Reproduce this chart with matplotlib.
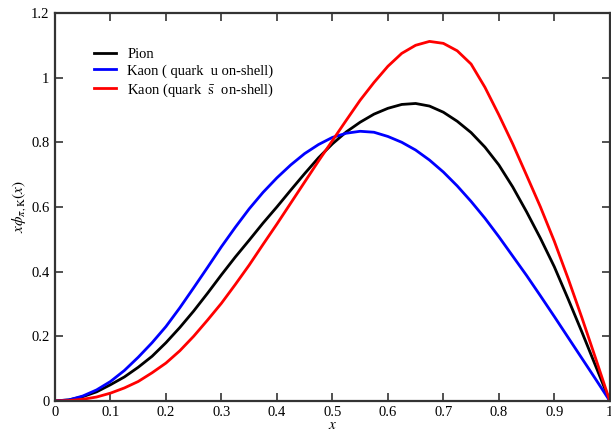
import matplotlib
matplotlib.use("Agg")
import matplotlib.pyplot as plt

plt.rcParams['font.family'] = ['Liberation Serif', 'DejaVu Serif']
plt.rcParams['mathtext.fontset'] = 'stix'

# momentum fraction grid
x = [0.0, 0.025, 0.05, 0.075, 0.1, 0.125, 0.15, 0.175, 0.2, 0.225,
     0.25, 0.275, 0.3, 0.325, 0.35, 0.375, 0.4, 0.425, 0.45, 0.475,
     0.5, 0.525, 0.55, 0.575, 0.6, 0.625, 0.65, 0.675, 0.7, 0.725,
     0.75, 0.775, 0.8, 0.825, 0.85, 0.875, 0.9, 0.925, 0.95, 0.975, 1.0]

pion = [0.0, 0.003, 0.013, 0.028, 0.05, 0.074, 0.104, 0.138, 0.18, 0.227,
        0.278, 0.333, 0.39, 0.445, 0.497, 0.55, 0.6, 0.652, 0.703, 0.752,
        0.795, 0.832, 0.862, 0.887, 0.905, 0.917, 0.92, 0.912, 0.893, 0.865,
        0.83, 0.785, 0.73, 0.662, 0.585, 0.503, 0.415, 0.315, 0.212, 0.106, 0.0]

kaon_u = [0.0, 0.003, 0.015, 0.034, 0.06, 0.094, 0.135, 0.18, 0.23, 0.288,
          0.35, 0.413, 0.477, 0.537, 0.594, 0.645, 0.69, 0.73, 0.765, 0.793,
          0.815, 0.828, 0.834, 0.831, 0.818, 0.8, 0.776, 0.745, 0.708, 0.665,
          0.617, 0.565, 0.508, 0.448, 0.388, 0.325, 0.261, 0.196, 0.131, 0.066, 0.0]

kaon_s = [0.0, 0.001, 0.005, 0.012, 0.024, 0.04, 0.06, 0.087, 0.117, 0.155,
          0.2, 0.25, 0.302, 0.36, 0.42, 0.484, 0.547, 0.612, 0.677, 0.742,
          0.805, 0.868, 0.93, 0.985, 1.035, 1.075, 1.1, 1.112, 1.106, 1.083,
          1.042, 0.97, 0.885, 0.795, 0.698, 0.6, 0.494, 0.378, 0.256, 0.129, 0.0]

labels = ["Pion", "Kaon ( quark  u on-shell)",
          r"Kaon (quark  $\bar{\mathrm{s}}$  on-shell)"]
colors = ["black", "blue", "red"]

fig = plt.figure(figsize=(6.11, 4.32), dpi=100)
ax = fig.add_axes([0.09, 0.072, 0.908, 0.898])

for y, lab, c in zip([pion, kaon_u, kaon_s], labels, colors):
    ax.plot(x, y, color=c, lw=2, label=lab)

ax.set_xlim(0, 1)
ax.set_ylim(0, 1.2)
ax.set_xticks([0, 0.1, 0.2, 0.3, 0.4, 0.5, 0.6, 0.7, 0.8, 0.9, 1])
ax.set_xticklabels(["0", "0.1", "0.2", "0.3", "0.4", "0.5", "0.6", "0.7", "0.8", "0.9", "1"])
ax.set_yticks([0, 0.2, 0.4, 0.6, 0.8, 1, 1.2])
ax.set_yticklabels(["0", "0.2", "0.4", "0.6", "0.8", "1", "1.2"])
ax.tick_params(direction='in', length=6, width=1.2, top=True, right=True,
               labelsize=10.5, pad=4, color='#333333')
for s in ax.spines.values():
    s.set_linewidth(1.6)
    s.set_color('#333333')

ax.set_xlabel(r"$x$", fontsize=11, labelpad=0)
ax.set_ylabel(r"$x\phi_{\pi,\mathrm{K}}(x)$", fontsize=11, labelpad=2)

ax.legend(loc='upper left', bbox_to_anchor=(0.058, 0.93), frameon=False,
          fontsize=10.5, handlelength=1.5, handletextpad=0.75,
          labelspacing=0.25, borderpad=0)

fig.savefig("out.png", dpi=100)
